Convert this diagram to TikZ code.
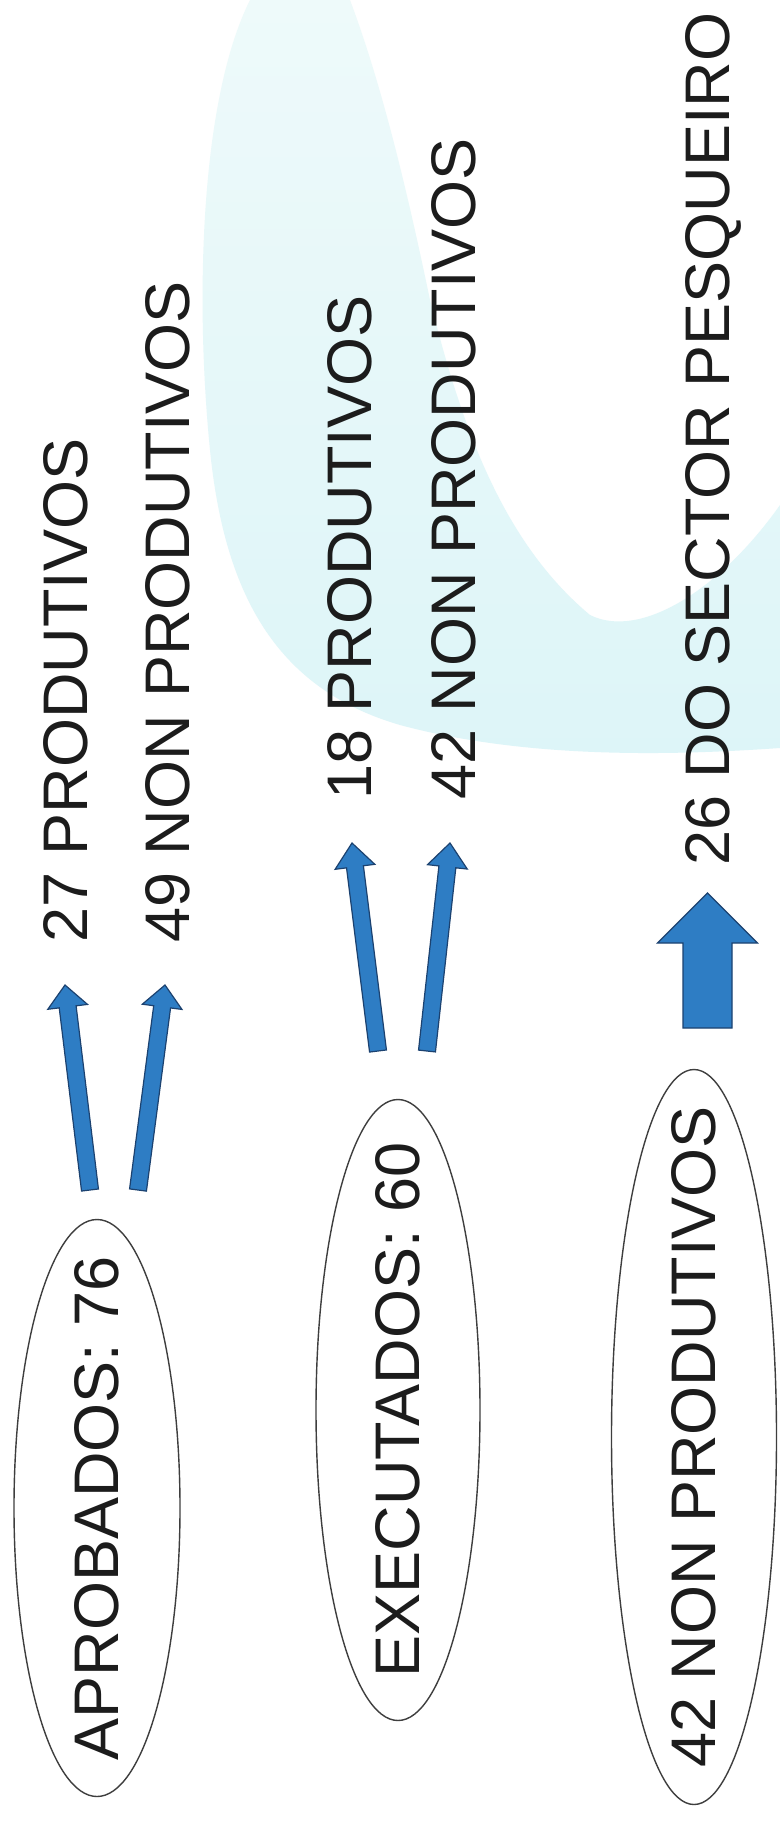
\documentclass[tikz,border=0pt]{standalone}
\usepackage{fontspec}
\setmainfont{Liberation Sans}
\usetikzlibrary{calc,shapes.geometric}
\definecolor{bgcyan}{RGB}{221,245,248}
\definecolor{bgcyanlight}{RGB}{238,250,250}
\definecolor{arrowblue}{RGB}{46,125,196}
\definecolor{arrowline}{RGB}{28,66,112}
\definecolor{inkgray}{RGB}{28,28,28}
\tikzset{
  lbl/.style={rotate=90, inner sep=0pt, text=inkgray, font=\fontsize{31.5}{36}\selectfont},
  oval/.style={ellipse, draw=inkgray!85, line width=0.7pt, inner sep=0pt},
  arrowsty/.style={fill=arrowblue, draw=arrowline, line width=0.6pt, line join=miter},
}
% #1 start, #2 end, #3 shaft half width, #4 head half width, #5 head length
\newcommand{\myarrow}[5]{%
  \coordinate (hb) at ($(#2)!#5!(#1)$);
  \filldraw[arrowsty] ($(#1)!#3!90:(#2)$) -- ($(hb)!#3!90:(#2)$) -- ($(hb)!#4!90:(#2)$) -- (#2)
    -- ($(hb)!#4!-90:(#2)$) -- ($(hb)!#3!-90:(#2)$) -- ($(#1)!#3!-90:(#2)$) -- cycle;
}
\begin{document}
\begin{tikzpicture}[x=0.5pt,y=-0.5pt]
\useasboundingbox (0,0) rectangle (780,1824);
\fill[white] (0,0) rectangle (780,1824);
% background swoosh
\shade[top color=bgcyanlight, bottom color=bgcyan] (250,0) .. controls (200,100) and (195,300) .. (210,450)
  .. controls (225,600) and (280,690) .. (400,725)
  .. controls (530,760) and (680,755) .. (780,748) -- (780,505)
  .. controls (720,590) and (640,640) .. (590,615)
  .. controls (500,540) and (460,420) .. (430,300)
  .. controls (405,180) and (380,80) .. (350,0) -- cycle;

% ellipses
\node[oval, minimum width=83pt, minimum height=288.5pt] (e1) at (97,1508) {};
\node[oval, minimum width=82pt, minimum height=310.5pt] (e2) at (398,1410) {};
\node[oval, minimum width=82.5pt, minimum height=367.5pt] (e3) at (694,1437) {};
\node[lbl] (l1) at (e1.center) {APROBADOS: 76};
\node[lbl] (l2) at (e2.center) {EXECUTADOS: 60};
\node[lbl] (l3) at (e3.center) {42 NON PRODUTIVOS};

% result labels
\node[lbl, anchor=base west] (t1) at (87,943) {27 PRODUTIVOS};
\node[lbl, anchor=base west] (t2) at (189,943) {49 NON PRODUTIVOS};
\node[lbl, anchor=base west] (t3) at (371,800) {18 PRODUTIVOS};
\node[lbl, anchor=base west] (t4) at (475,800) {42 NON PRODUTIVOS};
\node[lbl, anchor=base west] (t5) at (729,866) {26 DO SECTOR PESQUEIRO};

% arrow end points
\coordinate (a1s) at (90,1190);  \coordinate (a1e) at (65,985);
\coordinate (a2s) at (138,1190); \coordinate (a2e) at (165,985);
\coordinate (a3s) at (378,1051); \coordinate (a3e) at (352,843);
\coordinate (a4s) at (427,1051); \coordinate (a4e) at (450,843);
\coordinate (a5s) at (707.5,1028); \coordinate (a5e) at (707.5,893);

\myarrow{a1s}{a1e}{4.25pt}{10pt}{11pt}
\myarrow{a2s}{a2e}{4.25pt}{10pt}{11pt}
\myarrow{a3s}{a3e}{4.25pt}{10pt}{12pt}
\myarrow{a4s}{a4e}{4.25pt}{10pt}{12pt}
\myarrow{a5s}{a5e}{12.25pt}{25pt}{25pt}
\end{tikzpicture}
\end{document}
